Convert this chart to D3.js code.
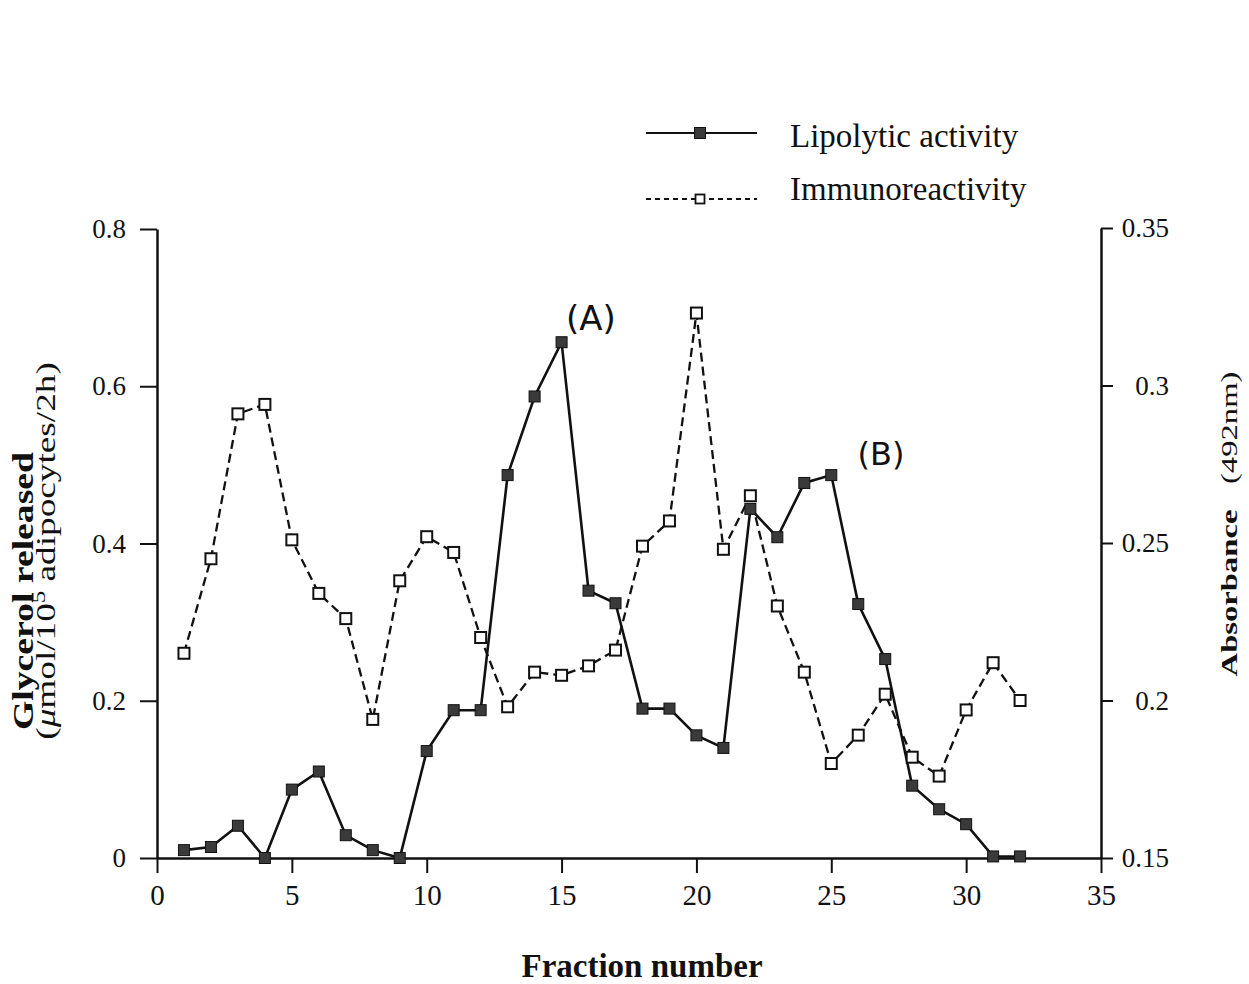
<!DOCTYPE html>
<html>
<head>
<meta charset="utf-8">
<script src="https://cdn.jsdelivr.net/npm/d3@7"></script>
<style>
  body { margin: 0; background: #fff; }
  text { font-family: "Liberation Serif", "Times New Roman", serif; fill: #111; }
</style>
</head>
<body>
<script>
// fraction numbers
var fractions = d3.range(1, 33);
// glycerol released (left axis)
var lipolytic = [0.010, 0.014, 0.041, 0.000, 0.087, 0.110, 0.029, 0.010, 0.000, 0.136,
                 0.188, 0.188, 0.487, 0.587, 0.656, 0.340, 0.324, 0.190, 0.190, 0.156,
                 0.140, 0.444, 0.408, 0.477, 0.487, 0.323, 0.253, 0.092, 0.062, 0.043,
                 0.002, 0.002];
// absorbance 492nm (right axis)
var immuno = [0.215, 0.245, 0.291, 0.294, 0.251, 0.234, 0.226, 0.194, 0.238, 0.252,
              0.247, 0.220, 0.198, 0.209, 0.208, 0.211, 0.216, 0.249, 0.257, 0.323,
              0.248, 0.265, 0.230, 0.209, 0.180, 0.189, 0.202, 0.182, 0.176, 0.197,
              0.212, 0.200];
var xTicks = [0, 5, 10, 15, 20, 25, 30, 35];
var leftTicks = [0, 0.2, 0.4, 0.6, 0.8];
var rightTicks = [0.15, 0.2, 0.25, 0.3, 0.35];

var W = 1249, H = 984;
var svg = d3.select("body").append("svg")
    .attr("width", W)
    .attr("height", H);

// scales
var x = d3.scaleLinear().domain([0, 35]).range([157, 1101]);
var yL = d3.scaleLinear().domain([0, 0.8]).range([858, 229]);
var yR = d3.scaleLinear().domain([0.15, 0.35]).range([858, 228]);

// axes
var gx = svg.append("g")
    .attr("transform", "translate(0,858)")
    .call(d3.axisBottom(x).tickValues(xTicks).tickSize(15).tickSizeOuter(0).tickPadding(11)
      .tickFormat(d3.format("d")));
var gl = svg.append("g")
    .attr("transform", "translate(157,0)")
    .call(d3.axisLeft(yL).tickValues(leftTicks).tickSize(17).tickSizeOuter(0).tickPadding(14)
      .tickFormat(function (d) { return d === 0 ? "0" : d3.format(".1f")(d); }));
var gr = svg.append("g")
    .attr("transform", "translate(1101,0)")
    .call(d3.axisRight(yR).tickValues(rightTicks).tickSize(12).tickSizeOuter(0)
      .tickFormat(function (d) { return String(+d.toFixed(2)); }));

[gx, gl, gr].forEach(function (g) {
  g.selectAll("path.domain").attr("stroke", "#111").attr("stroke-width", 2.5);
  g.selectAll(".tick line").attr("stroke", "#111").attr("stroke-width", 2);
  g.selectAll("text").attr("font-family", "Liberation Serif").attr("fill", "#111");
});
gx.selectAll("text").attr("font-size", 29);
gl.selectAll("text").attr("font-size", 27);
gr.selectAll("text").attr("font-size", 27).attr("text-anchor", "end").attr("x", 68);

// lines
var lineL = d3.line()
    .x(function (d, i) { return x(fractions[i]); })
    .y(function (d) { return yL(d); });
var lineR = d3.line()
    .x(function (d, i) { return x(fractions[i]); })
    .y(function (d) { return yR(d); });

svg.append("path")
    .datum(immuno)
    .attr("fill", "none")
    .attr("stroke", "#111")
    .attr("stroke-width", 2.3)
    .attr("stroke-dasharray", "9,5")
    .attr("d", lineR);

svg.append("path")
    .datum(lipolytic)
    .attr("fill", "none")
    .attr("stroke", "#111")
    .attr("stroke-width", 2.6)
    .attr("d", lineL);

var s = 11;
svg.append("g").selectAll("rect")
    .data(immuno)
    .enter().append("rect")
    .attr("x", function (d, i) { return x(fractions[i]) - s / 2; })
    .attr("y", function (d) { return yR(d) - s / 2; })
    .attr("width", s).attr("height", s)
    .attr("fill", "#fff")
    .attr("stroke", "#111")
    .attr("stroke-width", 2);

svg.append("g").selectAll("rect")
    .data(lipolytic)
    .enter().append("rect")
    .attr("x", function (d, i) { return x(fractions[i]) - s / 2; })
    .attr("y", function (d) { return yL(d) - s / 2; })
    .attr("width", s).attr("height", s)
    .attr("fill", "#3a3a3a")
    .attr("stroke", "#111")
    .attr("stroke-width", 1);

// peak labels
svg.append("text").attr("x", 591).attr("y", 330)
    .attr("text-anchor", "middle")
    .style("font-family", "DejaVu Sans").style("font-size", "34px")
    .text("(A)");
svg.append("text").attr("x", 881).attr("y", 465)
    .attr("text-anchor", "middle")
    .style("font-family", "DejaVu Sans").style("font-size", "32px")
    .text("(B)");

// legend
var legend = svg.append("g");
legend.append("line").attr("x1", 646).attr("x2", 757).attr("y1", 133).attr("y2", 133)
    .attr("stroke", "#111").attr("stroke-width", 2);
legend.append("rect").attr("x", 700 - 5.5).attr("y", 133 - 5.5).attr("width", 11).attr("height", 11)
    .attr("fill", "#3a3a3a").attr("stroke", "#111");
legend.append("line").attr("x1", 646).attr("x2", 757).attr("y1", 199).attr("y2", 199)
    .attr("stroke", "#111").attr("stroke-width", 1.8).attr("stroke-dasharray", "5,4");
legend.append("rect").attr("x", 700 - 4.5).attr("y", 199 - 4.5).attr("width", 9).attr("height", 9)
    .attr("fill", "#fff").attr("stroke", "#111").attr("stroke-width", 1.8);
legend.append("text").attr("x", 790).attr("y", 147).style("font-size", "33px").text("Lipolytic activity");
legend.append("text").attr("x", 790).attr("y", 200).style("font-size", "33px").text("Immunoreactivity");

// axis titles
svg.append("text")
    .attr("text-anchor", "middle")
    .attr("transform", "translate(642,977)")
    .style("font-size", "33px").style("font-weight", "bold")
    .text("Fraction number");

svg.append("text")
    .attr("text-anchor", "middle")
    .attr("transform", "translate(33,591) rotate(-90) scale(1.3,1)")
    .style("font-size", "29px").style("font-weight", "bold")
    .text("Glycerol released");

var l2 = svg.append("text")
    .attr("text-anchor", "middle")
    .attr("transform", "translate(55,551) rotate(-90) scale(1.38,1)")
    .style("font-size", "27px");
l2.append("tspan").text("(");
l2.append("tspan").style("font-style", "italic").text("\u03bc");
l2.append("tspan").text("mol/10");
l2.append("tspan").attr("dy", -10).style("font-size", "18px").text("5");
l2.append("tspan").attr("dy", 10).text(" adipocytes/2h)");

var rt = svg.append("text")
    .attr("text-anchor", "middle")
    .attr("transform", "translate(1237,524) rotate(-90) scale(1.42,1)")
    .style("font-size", "23px");
rt.append("tspan").style("font-weight", "bold").text("Absorbance");
rt.append("tspan").attr("dx", 18).text("(492nm)");
</script>
</body>
</html>
